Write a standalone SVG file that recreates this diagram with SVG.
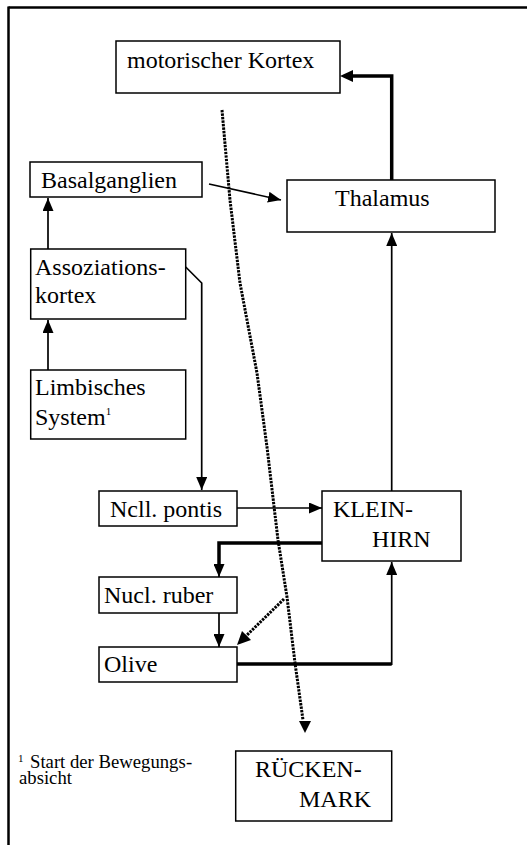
<svg xmlns="http://www.w3.org/2000/svg" width="527" height="845" viewBox="0 0 527 845">
<style>
.box{fill:#fff;stroke:#000;stroke-width:1.5}
.t{font-family:"Liberation Serif","Times New Roman",serif;font-size:24px;fill:#000}
.f{font-family:"Liberation Serif","Times New Roman",serif;font-size:18.7px;fill:#000}
.sup{font-family:"Liberation Serif","Times New Roman",serif;font-size:11px;fill:#000}
.ln{fill:none;stroke:#000;stroke-width:1.7}
.thick{fill:none;stroke:#000;stroke-width:3.5}
.dot{fill:none;stroke:#000;stroke-width:3;stroke-dasharray:2.4 1.1}
</style>
<defs>
<marker id="ah" markerUnits="userSpaceOnUse" markerWidth="13" markerHeight="11" refX="13" refY="5.5" orient="auto"><path d="M0,0 L13,5.5 L0,11 z" fill="#000"/></marker>
</defs>
<g id="frame">
<line x1="8.5" y1="7.5" x2="527" y2="7.5" stroke="#000" stroke-width="2.5"/>
<line x1="8.5" y1="6.5" x2="8.5" y2="845" stroke="#000" stroke-width="2.5"/>
</g>
<g id="connectors">
<path class="thick" d="M391.7,180 L391.7,76 L352,76"/>
<path d="M340,76 L353,70 L353,82 z" fill="#000"/>
<line class="ln" x1="209" y1="184" x2="281" y2="200" marker-end="url(#ah)"/>
<line class="ln" x1="48" y1="249" x2="48" y2="198" marker-end="url(#ah)"/>
<line class="ln" x1="48" y1="370" x2="48" y2="320" marker-end="url(#ah)"/>
<path class="ln" d="M185.7,267 L201.7,283 L201.7,490" marker-end="url(#ah)"/>
<line class="ln" x1="237" y1="508" x2="322" y2="508" marker-end="url(#ah)"/>
<line class="ln" x1="391.7" y1="491" x2="391.7" y2="233" marker-end="url(#ah)"/>
<path class="thick" d="M322,543 L219,543 L219,566"/>
<line class="ln" x1="219" y1="560" x2="219" y2="577" marker-end="url(#ah)"/>
<line class="ln" x1="219" y1="613" x2="219" y2="647" marker-end="url(#ah)"/>
<path class="thick" d="M237,664 L391.7,664"/>
<line class="ln" x1="391.7" y1="665" x2="391.7" y2="562" marker-end="url(#ah)"/>
<polyline class="dot" points="222,110 230,200 240,283 257,373 267,447 278,540 287,597 295,663 303,720"/>
<path d="M299,721 L311,721 L305,733 z" fill="#000"/>
<line class="dot" x1="284" y1="599" x2="245" y2="637"/>
<path d="M237,645 L242,631 L251,640 z" fill="#000"/>
</g>
<g id="motorischer-kortex">
<rect class="box" x="116" y="41" width="224" height="52"/>
<text class="t" x="127" y="68">motorischer Kortex</text>
</g>
<g id="basalganglien">
<rect class="box" x="30" y="162" width="172" height="35"/>
<text class="t" x="41" y="188">Basalganglien</text>
</g>
<g id="thalamus">
<rect class="box" x="287" y="180" width="208" height="52"/>
<text class="t" x="335" y="206">Thalamus</text>
</g>
<g id="assoziationskortex">
<rect class="box" x="30.7" y="249" width="155" height="70"/>
<text class="t" x="35" y="275">Assoziations-</text>
<text class="t" x="35" y="303">kortex</text>
</g>
<g id="limbisches-system">
<rect class="box" x="30.7" y="370" width="155" height="69"/>
<text class="t" x="35" y="395">Limbisches</text>
<text class="t" x="35" y="425">System<tspan class="sup" dy="-10">1</tspan></text>
</g>
<g id="ncll-pontis">
<rect class="box" x="99" y="491" width="138" height="35"/>
<text class="t" x="110" y="517">Ncll. pontis</text>
</g>
<g id="kleinhirn">
<rect class="box" x="322" y="491" width="139" height="70"/>
<text class="t" x="333" y="517">KLEIN-</text>
<text class="t" x="372" y="547">HIRN</text>
</g>
<g id="nucl-ruber">
<rect class="box" x="99" y="577" width="138" height="36"/>
<text class="t" x="104" y="603">Nucl. ruber</text>
</g>
<g id="olive">
<rect class="box" x="99" y="647" width="138" height="35"/>
<text class="t" x="104" y="672">Olive</text>
</g>
<g id="rueckenmark">
<rect class="box" x="235.7" y="751" width="156" height="70"/>
<text class="t" x="255" y="777">RÜCKEN-</text>
<text class="t" x="299" y="807">MARK</text>
</g>
<g id="footnote">
<text class="sup" x="18" y="762">1</text>
<text class="f" x="30" y="768">Start der Bewegungs<tspan x="186">-</tspan></text>
<text class="f" x="19" y="784">absicht</text>
</g>
</svg>
